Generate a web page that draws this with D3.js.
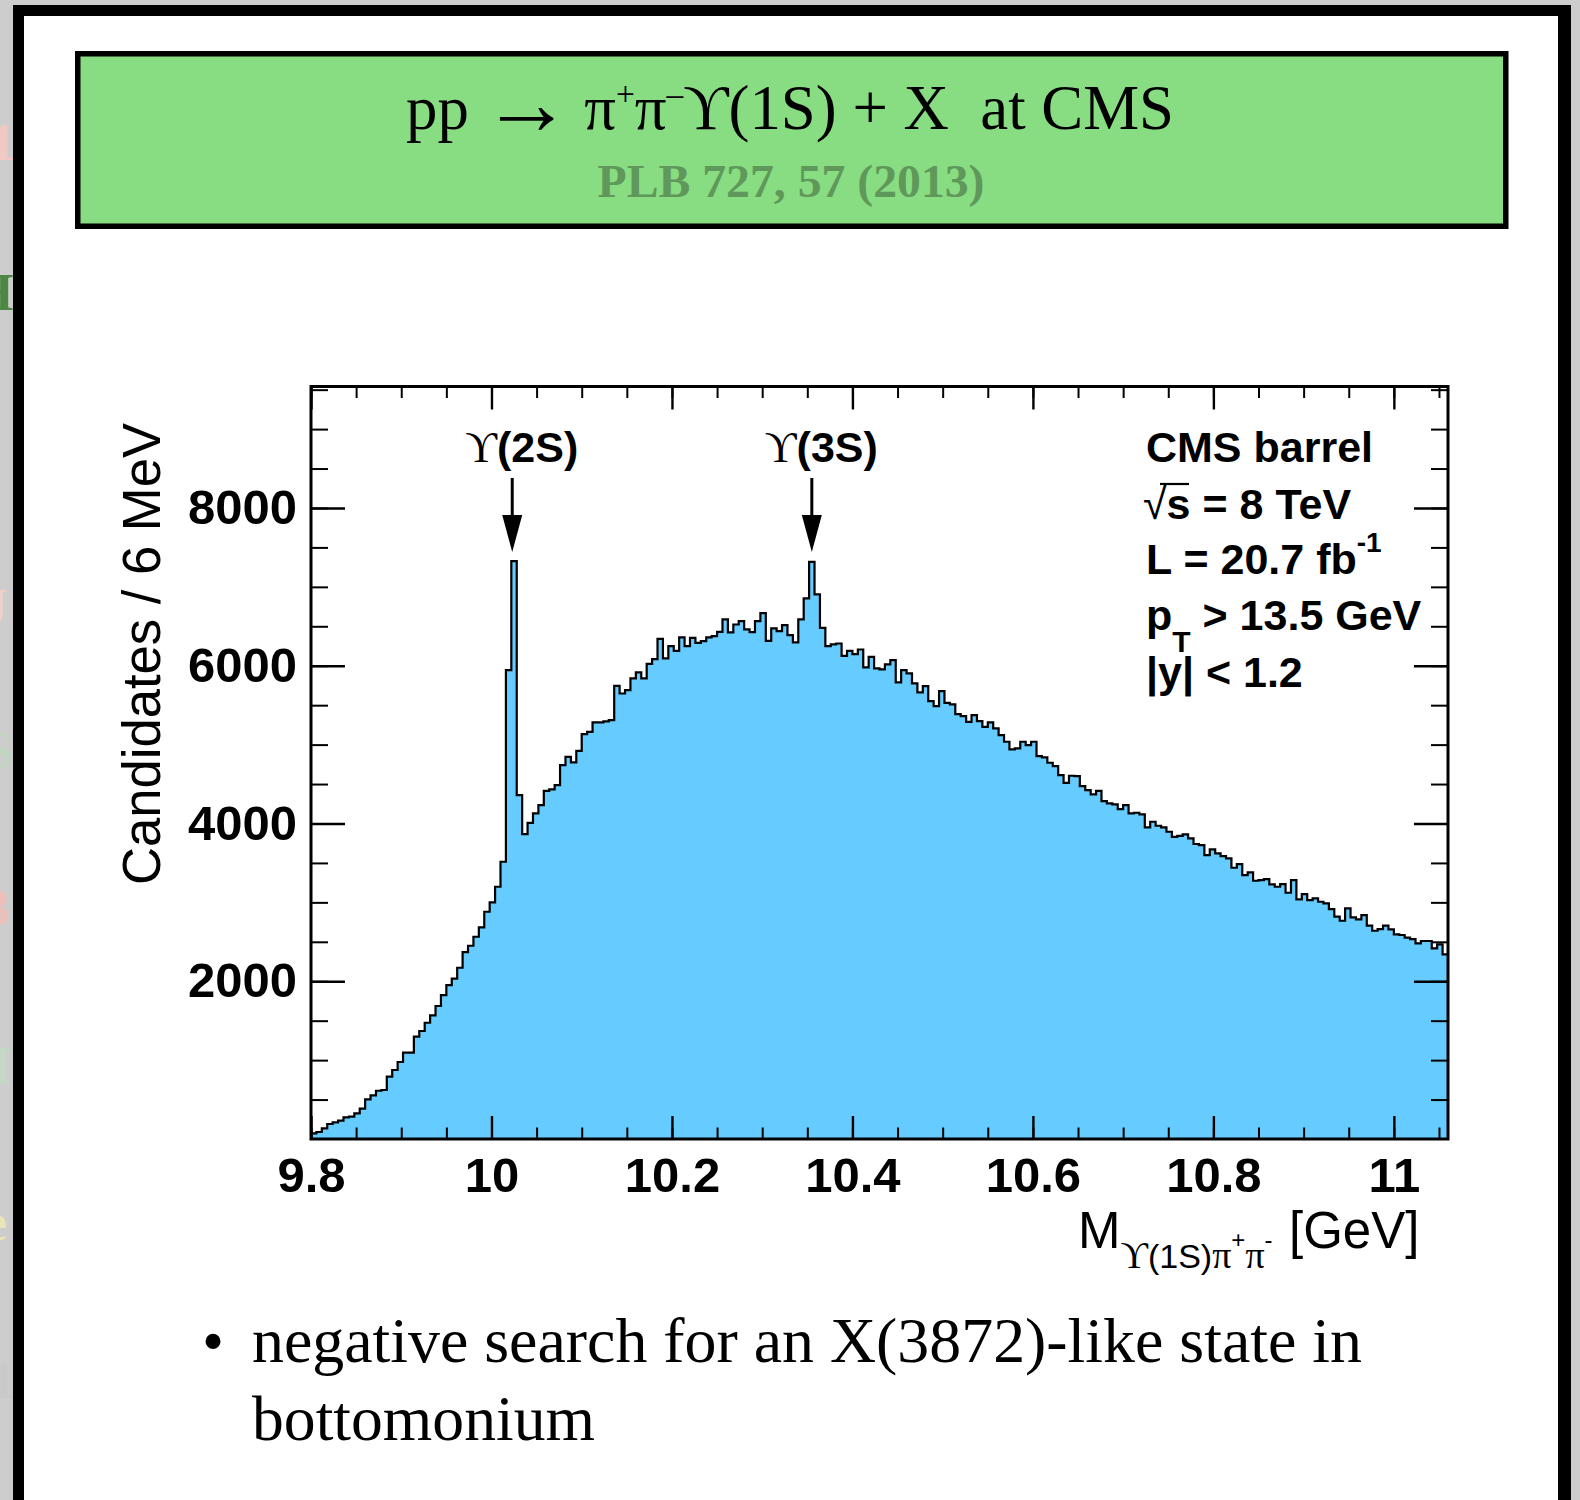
<!DOCTYPE html>
<html>
<head>
<meta charset="utf-8">
<script src="https://cdn.jsdelivr.net/npm/d3@7"></script>
<style>
  html, body { margin: 0; padding: 0; background: #cdcdcd; }
  svg { display: block; }
  .pre { white-space: pre; }
</style>
</head>
<body>
<svg id="slide" width="1580" height="1500"></svg>
<script>
// ---- data: Y(1S)pi+pi- invariant mass, 6 MeV bins starting at 9.8 GeV ----
const binLow = 9.8;
const binWidth = 0.006;
const counts = [
  72, 89, 135, 190, 211, 232, 275, 283, 326, 384,
  503, 554, 612, 621, 790, 875, 976, 1094, 1094, 1297,
  1369, 1474, 1568, 1686, 1825, 1952, 2032, 2171, 2370, 2450,
  2564, 2683, 2881, 3000, 3198, 3515, 5944, 7326, 4360, 3866,
  4009, 4128, 4233, 4414, 4432, 4487, 4740, 4845, 4774, 4921,
  5133, 5162, 5281, 5281, 5294, 5310, 5745, 5648, 5690, 5839,
  5915, 5839, 6024, 6084, 6341, 6092, 6248, 6189, 6359, 6248,
  6354, 6290, 6312, 6359, 6375, 6430, 6587, 6422, 6523, 6565,
  6460, 6426, 6565, 6667, 6316, 6473, 6439, 6515, 6388, 6295,
  6587, 6853, 7317, 6904, 6481, 6248, 6270, 6282, 6126, 6189,
  6147, 6206, 5978, 6113, 5966, 5953, 6016, 6071, 5788, 5944,
  5902, 5776, 5661, 5741, 5551, 5488, 5678, 5530, 5509, 5387,
  5361, 5289, 5374, 5298, 5226, 5281, 5205, 5120, 5036, 4939,
  4952, 5036, 4994, 5036, 4854, 4837, 4770, 4728, 4613, 4516,
  4605, 4601, 4474, 4423, 4369, 4414, 4284, 4255, 4242, 4183,
  4233, 4128, 4136, 4115, 3950, 4022, 3971, 3950, 3895, 3831,
  3844, 3861, 3811, 3740, 3726, 3600, 3672, 3621, 3587, 3558,
  3439, 3485, 3346, 3380, 3274, 3283, 3295, 3228, 3198, 3232,
  3122, 3283, 3038, 3105, 3029, 3051, 3008, 2987, 2915, 2818,
  2767, 2924, 2810, 2785, 2839, 2704, 2640, 2662, 2704, 2657,
  2594, 2586, 2552, 2535, 2480, 2510, 2510, 2417, 2468, 2341
];

// axis ticks
const xTickValues = [9.8, 10, 10.2, 10.4, 10.6, 10.8, 11];
const xTickLabels = ["9.8", "10", "10.2", "10.4", "10.6", "10.8", "11"];
const xMinorTicks = d3.range(0, 26).map(i => +(9.8 + i * 0.05).toFixed(2));
const yTickValues = [2000, 4000, 6000, 8000];
const yTickLabels = ["2000", "4000", "6000", "8000"];
const yMinorTicks = d3.range(1, 20).map(i => i * 500);

// resonance markers
const peakStates = ["2S", "3S"];
const peakMasses = [10.023, 10.355];

// text blocks
const bulletLines = ["negative search for an X(3872)-like state in", "bottomonium"];
const marginGlyphs = ["1", "H", "J", "S", "3", "H", "e", "1"];
const marginGlyphColors = ["#efc9c2", "#4c8743", "#f0cfc9", "#c2d4c2", "#ecc0b8", "#c4d6c4", "#e8e6b8", "#c9c9c9"];
const marginGlyphY = [160, 310, 625, 768, 925, 1083, 1240, 1398];
const marginGlyphX = [-10, -27, -18, -16, -16, -29, -16, -10];

// ---- drawing ----
const svg = d3.select("#slide");
const SANS = "'Liberation Sans', Arial, Helvetica, sans-serif";
const SERIF = "'Liberation Serif', 'Times New Roman', serif";
const UPS = "\u03d2"; // upsilon with hook, as in the Symbol font

// edge of the slide stack on the left
const edge = svg.append("g");
marginGlyphs.forEach((g, i) => {
  edge.append("text")
    .attr("x", marginGlyphX[i]).attr("y", marginGlyphY[i])
    .attr("font-family", SERIF).attr("font-weight", "bold")
    .attr("font-size", 52).attr("fill", marginGlyphColors[i])
    .text(g);
});

// slide card
svg.append("rect").attr("x", 13).attr("y", 5).attr("width", 1558).attr("height", 1510).attr("fill", "#000");
svg.append("rect").attr("x", 24).attr("y", 16).attr("width", 1534).attr("height", 1500).attr("fill", "#fff");

// title banner
svg.append("rect")
  .attr("x", 77.75).attr("y", 53.75).attr("width", 1428).attr("height", 172.5)
  .attr("fill", "#88dc82").attr("stroke", "#000").attr("stroke-width", 5.5);

const title = svg.append("text").attr("class", "pre")
  .attr("x", 406).attr("y", 128.5)
  .attr("font-family", SERIF).attr("font-size", 64).attr("fill", "#000")
  .attr("textLength", 768).attr("lengthAdjust", "spacingAndGlyphs");
title.append("tspan").text("pp\u2009");
title.append("tspan").attr("font-size", 92).attr("dy", 5).text("\u2192");
title.append("tspan").attr("dy", -5).text("\u2009\u03c0");
title.append("tspan").attr("font-size", 34).attr("dy", -24).text("+");
title.append("tspan").attr("dy", 24).text("\u03c0");
title.append("tspan").attr("font-size", 34).attr("dy", -24).text("\u2013");
title.append("tspan").attr("dy", 24).text(UPS + "(1S) + X  at CMS");

svg.append("text")
  .attr("x", 597.5).attr("y", 196.7)
  .attr("font-family", SERIF).attr("font-weight", "bold").attr("font-size", 47)
  .attr("fill", "#5f985a")
  .attr("textLength", 387).attr("lengthAdjust", "spacingAndGlyphs")
  .text("PLB 727, 57 (2013)");

// ---- histogram panel ----
const frame = { left: 311, right: 1448, top: 386.5, bottom: 1139 };
const nBins = counts.length;
const x = d3.scaleLinear().domain([binLow, binLow + nBins * binWidth]).range([frame.left, frame.right]);
const y = d3.scaleLinear().domain([0, 9540]).range([frame.bottom, frame.top]);

const stepPoints = counts.map((c, i) => [binLow + i * binWidth, c]);
stepPoints.push([binLow + nBins * binWidth, counts[nBins - 1]]);

const plot = svg.append("g");
plot.append("path")
  .datum(stepPoints)
  .attr("d", d3.area().curve(d3.curveStepAfter).x(d => x(d[0])).y0(y(0)).y1(d => y(d[1])))
  .attr("fill", "#66ccff");
plot.append("path")
  .datum(stepPoints)
  .attr("d", d3.line().curve(d3.curveStepAfter).x(d => x(d[0])).y(d => y(d[1])))
  .attr("fill", "none").attr("stroke", "#000").attr("stroke-width", 2.2)
  .attr("stroke-linejoin", "miter");

function styleAxis(g, width) {
  g.select(".domain").remove();
  g.selectAll(".tick line").attr("stroke", "#000").attr("stroke-width", width);
}

// x axes (bottom with labels, top mirrored)
plot.append("g").attr("transform", `translate(0,${frame.bottom})`)
  .call(d3.axisBottom(x).tickValues(xMinorTicks).tickSize(-11.5).tickFormat(""))
  .call(g => styleAxis(g, 2));
const xAxis = plot.append("g").attr("transform", `translate(0,${frame.bottom})`)
  .call(d3.axisBottom(x).tickValues(xTickValues).tickSize(-23).tickPadding(18)
        .tickFormat((d, i) => xTickLabels[i]))
  .call(g => styleAxis(g, 2.4));
xAxis.selectAll("text").attr("font-family", SANS).attr("font-weight", "bold")
  .attr("font-size", 49).attr("fill", "#000");

plot.append("g").attr("transform", `translate(0,${frame.top})`)
  .call(d3.axisTop(x).tickValues(xMinorTicks).tickSize(-11.5).tickFormat(""))
  .call(g => styleAxis(g, 2));
plot.append("g").attr("transform", `translate(0,${frame.top})`)
  .call(d3.axisTop(x).tickValues(xTickValues).tickSize(-23).tickFormat(""))
  .call(g => styleAxis(g, 2.4));

// y axes (left with labels, right mirrored)
plot.append("g").attr("transform", `translate(${frame.left},0)`)
  .call(d3.axisLeft(y).tickValues(yMinorTicks).tickSize(-17).tickFormat(""))
  .call(g => styleAxis(g, 2));
const yAxis = plot.append("g").attr("transform", `translate(${frame.left},0)`)
  .call(d3.axisLeft(y).tickValues(yTickValues).tickSize(-34).tickPadding(14)
        .tickFormat((d, i) => yTickLabels[i]))
  .call(g => styleAxis(g, 2.4));
yAxis.selectAll("text").attr("font-family", SANS).attr("font-weight", "bold")
  .attr("font-size", 49).attr("fill", "#000");

plot.append("g").attr("transform", `translate(${frame.right},0)`)
  .call(d3.axisRight(y).tickValues(yMinorTicks).tickSize(-17).tickFormat(""))
  .call(g => styleAxis(g, 2));
plot.append("g").attr("transform", `translate(${frame.right},0)`)
  .call(d3.axisRight(y).tickValues(yTickValues).tickSize(-34).tickFormat(""))
  .call(g => styleAxis(g, 2.4));

// frame
plot.append("rect")
  .attr("x", frame.left).attr("y", frame.top)
  .attr("width", frame.right - frame.left).attr("height", frame.bottom - frame.top)
  .attr("fill", "none").attr("stroke", "#000").attr("stroke-width", 3);

// axis titles
svg.append("text")
  .attr("transform", "translate(160,654) rotate(-90)")
  .attr("text-anchor", "middle")
  .attr("font-family", SANS).attr("font-size", 54).attr("fill", "#000")
  .attr("textLength", 462).attr("lengthAdjust", "spacingAndGlyphs")
  .text("Candidates / 6 MeV");

const xTitle = svg.append("text")
  .attr("x", 1078).attr("y", 1248)
  .attr("font-family", SANS).attr("font-size", 51).attr("fill", "#000");
xTitle.append("tspan").text("M");
xTitle.append("tspan").attr("font-family", SERIF).attr("font-size", 38).attr("dy", 20).text(UPS);
xTitle.append("tspan").attr("font-size", 34).text("(1S)");
xTitle.append("tspan").attr("font-family", SERIF).attr("font-size", 38).text("\u03c0");
xTitle.append("tspan").attr("font-size", 24).attr("dy", -20).text("+");
xTitle.append("tspan").attr("font-family", SERIF).attr("font-size", 38).attr("dy", 20).text("\u03c0");
xTitle.append("tspan").attr("font-size", 24).attr("dy", -20).text("-");
xTitle.append("tspan").attr("x", 1289).attr("dy", 0).text("[GeV]");

// resonance arrows
peakMasses.forEach((m, i) => {
  const px = x(m);
  const lbl = plot.append("text").attr("x", px - 47).attr("y", 462).attr("fill", "#000");
  lbl.append("tspan").attr("font-family", SERIF).attr("font-size", 44).text(UPS);
  lbl.append("tspan").attr("font-family", SANS).attr("font-weight", "bold").attr("font-size", 43)
    .text("(" + peakStates[i] + ")");
  plot.append("line").attr("x1", px).attr("x2", px).attr("y1", 478).attr("y2", 520)
    .attr("stroke", "#000").attr("stroke-width", 3);
  plot.append("path")
    .attr("d", `M${px - 10},515 L${px + 10},515 L${px},552 Z`)
    .attr("fill", "#000");
});

// run conditions
const info = plot.append("g").attr("font-family", SANS).attr("font-weight", "bold")
  .attr("font-size", 43).attr("fill", "#000");
info.append("text").attr("x", 1146).attr("y", 461.5).text("CMS barrel");
const sLine = info.append("text").attr("x", 1143).attr("y", 519);
sLine.append("tspan").attr("font-weight", "normal").text("\u221a");
sLine.append("tspan").text("s = 8 TeV");
info.append("line").attr("x1", 1160).attr("x2", 1189).attr("y1", 484).attr("y2", 484)
  .attr("stroke", "#000").attr("stroke-width", 2.2);
const lLine = info.append("text").attr("x", 1146).attr("y", 574);
lLine.append("tspan").text("L = 20.7 fb");
lLine.append("tspan").attr("font-size", 28).attr("dy", -22).text("-1");
const pLine = info.append("text").attr("x", 1146).attr("y", 630);
pLine.append("tspan").text("p");
pLine.append("tspan").attr("font-size", 30).attr("dy", 22).text("T");
pLine.append("tspan").attr("dy", -22).text(" > 13.5 GeV");
info.append("text").attr("x", 1146).attr("y", 687).text("|y| < 1.2");

// bullet text
svg.append("text").attr("x", 202).attr("y", 1362)
  .attr("font-family", SERIF).attr("font-size", 63).attr("fill", "#000").text("\u2022");
const bulletLen = [1110, 343];
bulletLines.forEach((line, i) => {
  svg.append("text")
    .attr("x", 252).attr("y", 1362 + i * 78)
    .attr("font-family", SERIF).attr("font-size", 63).attr("fill", "#000")
    .attr("textLength", bulletLen[i]).attr("lengthAdjust", "spacingAndGlyphs")
    .text(line);
});
</script>
</body>
</html>
